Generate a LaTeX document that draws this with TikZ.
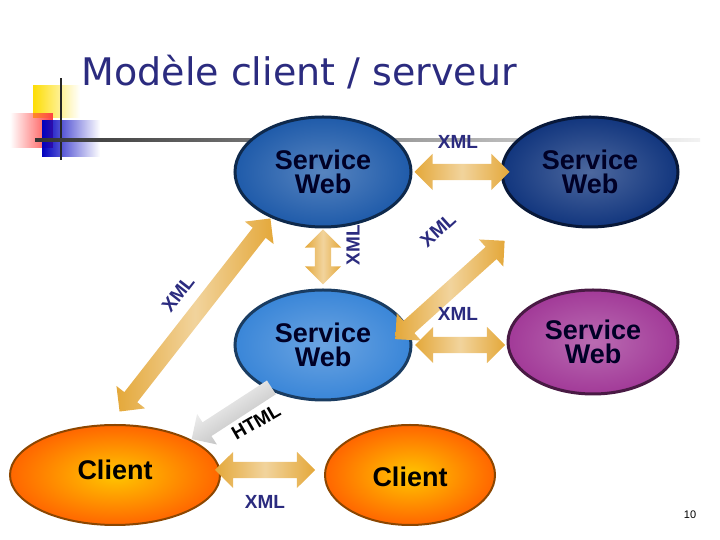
\documentclass[tikz,border=0pt]{standalone}
\usepackage{fontspec}
\setmainfont{Liberation Sans}
\newfontfamily\titlefont{DejaVu Sans}
\usetikzlibrary{shapes.geometric,shapes.arrows,fadings}
\definecolor{navy}{HTML}{2B2B7F}
\definecolor{gold}{HTML}{E4A83A}
\definecolor{swA}{HTML}{1F5BAA}
\definecolor{swB}{HTML}{12367E}
\definecolor{swC}{HTML}{3A86D8}
\definecolor{swD}{HTML}{A23A98}
\begin{document}
\begin{tikzpicture}[x=1pt,y=1pt,
  sw/.style={ellipse,minimum width=176,minimum height=110,draw=#1!45!black,line width=3pt,
    inner color=#1!75!white,outer color=#1,font=\bfseries\fontsize{27}{27}\selectfont,text=black!85!blue,align=center},
  cl/.style={ellipse,draw=orange!55!black,line width=2pt,inner color=yellow!55!orange,outer color=orange!80!red,
    font=\bfseries\fontsize{27}{27}\selectfont,text=black},
  dar/.style={double arrow,inner sep=8pt,double arrow head extend=10pt,minimum height=#1,
    left color=gold,right color=gold,middle color=gold!50!white,shading angle=90},
  lab/.style={font=\bfseries\fontsize{19}{19}\selectfont,text=navy}]
\useasboundingbox (0,0) rectangle (720,540);
% decoration
\fill[yellow!80!orange,path fading=east] (33,422) rectangle (80,455);
\fill[red!75,path fading=west] (10,392) rectangle (53,427);
\fill[blue!75!black,path fading=east] (42,383) rectangle (100,420);
\draw[line width=2.5pt,black!85] (61,380) -- (61,462);
\shade[left color=black!80,right color=black!5] (35,398) rectangle (700,401);
\node[anchor=west,text=navy,font=\titlefont\fontsize{38}{38}\selectfont] (title) at (78,468) {Modèle client / serveur};
% nodes
\node[sw=swA] (sw1) at (323,368) {Service\\[-3pt]Web};
\node[sw=swB] (sw2) at (590,368) {Service\\[-3pt]Web};
\node[sw=swC] (sw3) at (323,195) {Service\\[-3pt]Web};
\node[sw=swD,minimum width=170,minimum height=104] (sw4) at (593,198) {Service\\[-3pt]Web};
\node[cl,minimum width=210,minimum height=100] (c1) at (115,65) {};
\node[font=\bfseries\fontsize{27}{27}\selectfont] (c1t) at (115,70) {Client};
\node[cl,minimum width=170,minimum height=100] (c2) at (410,65) {};
\node[font=\bfseries\fontsize{27}{27}\selectfont] (c2t) at (410,63) {Client};
% arrows
\node[dar=95] (a1) at (462,368) {};
\node[dar=55,rotate=90] (a2) at (323,283) {};
\node[dar=147,rotate=42] (a3) at (450,250) {};
\node[dar=245,rotate=52] (a4) at (195,225) {};
\node[dar=90] (a5) at (460,195) {};
\node[dar=100] (a6) at (265,70) {};
\node[single arrow,inner sep=8pt,single arrow head extend=10pt,minimum height=95,rotate=213,
  left color=black!30,right color=white,shading angle=213] (a7) at (235,129) {};
% labels
\node[lab] (l1) at (458,398) {XML};
\node[lab,rotate=90] (l2) at (353,295) {XML};
\node[lab,rotate=42] (l3) at (438,310) {XML};
\node[lab,rotate=52] (l4) at (178,246) {XML};
\node[lab] (l5) at (458,226) {XML};
\node[lab] (l6) at (265,38) {XML};
\node[lab,text=black,rotate=30] (l7) at (256,118) {HTML};
\node[font=\fontsize{11}{11}\selectfont] (pg) at (690,25) {10};
\end{tikzpicture}
\end{document}
